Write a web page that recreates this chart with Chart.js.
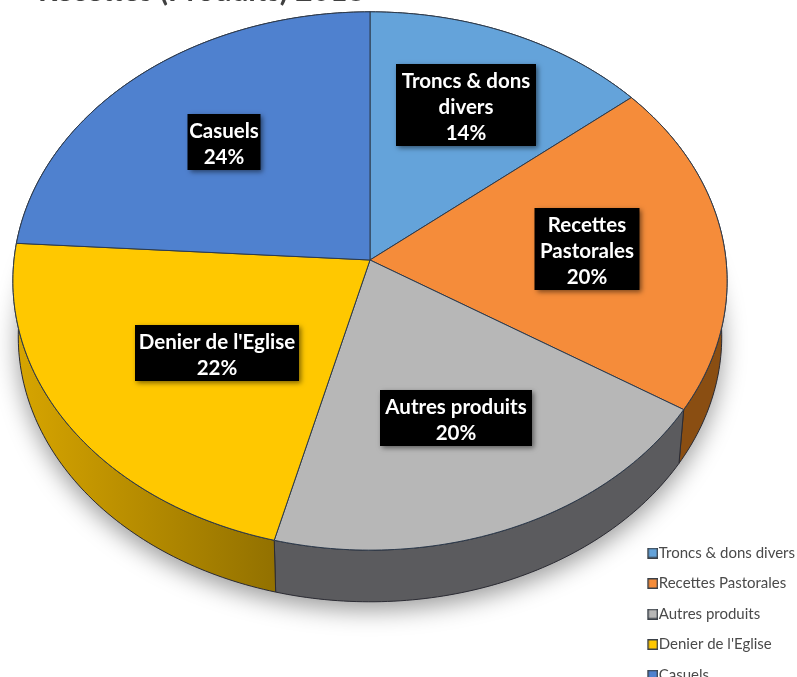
<!DOCTYPE html>
<html>
<head>
<meta charset="utf-8">
<title>Recettes (Produits) 2018</title>
<script src="https://cdn.jsdelivr.net/npm/chart.js@4"></script>
<style>
  html, body { margin: 0; padding: 0; background: #fff; overflow: hidden; }
  #wrap { position: relative; width: 797px; height: 677px; overflow: hidden; }
  #pie { position: absolute; left: 0; top: -30px; }
</style>
</head>
<body>
<div id="wrap"><canvas id="pie" width="805" height="728"></canvas></div>
<script>
const categories = ['Troncs & dons divers', 'Recettes Pastorales', 'Autres produits', "Denier de l'Eglise", 'Casuels'];
const values = [14, 20, 20, 22, 24];
const labelLines = [['Troncs & dons', 'divers'], ['Recettes', 'Pastorales'], ['Autres produits'], ["Denier de l'Eglise"], ['Casuels']];

const sliceColors = ['#64A3DA', '#F58C3A', '#B7B7B7', '#FFC800', '#4F81CF'];
const wallColors = ['#3F6E9B', '#8A4E12', '#5B5B5E', '#917000', '#30528C'];
const wallLight = ['#3F6E9B', '#8A4E12', '#5B5B5E', '#D6A400', '#30528C'];
// centre des boites noires (px dans le canvas)
const labelCenters = [[466, 135], [587, 279], [456, 448], [217, 383], [224, 172]];
const labelWidths = [140, 105, 152, 164, 73];

// projection en perspective du disque
const cx = 370, cy = 290, A = 356, B = 267.5, p = 0.078;

function project(angle, depth) {
  const u = Math.cos(angle), v = -Math.sin(angle);
  const w = 1 + p * v;
  const k = depth ? 0.985 : 1;
  return [cx + k * A * u / w, cy + (depth || 0) - k * B * v / w];
}

function tracePie(ctx, start, end, depth) {
  const steps = Math.ceil(Math.abs(end - start) * 60);
  for (let i = 0; i <= steps; i++) {
    const pt = project(start + (end - start) * i / steps, depth);
    ctx.lineTo(pt[0], pt[1]);
  }
}

const pie3d = {
  id: 'pie3d',
  beforeDatasetsDraw(chart) {
    const ctx = chart.ctx;
    const arcs = chart.getDatasetMeta(0).data;
    const depth = 56;

    // ombre sous le gateau
    ctx.save();
    ctx.shadowColor = 'rgba(0,0,0,0.4)';
    ctx.shadowBlur = 24;
    ctx.shadowOffsetY = 8;
    ctx.fillStyle = '#777';
    ctx.beginPath();
    tracePie(ctx, 0, Math.PI * 2, depth);
    ctx.closePath();
    ctx.fill();
    ctx.restore();

    // cotes
    arcs.forEach((arc, i) => {
      const grad = ctx.createLinearGradient(20, 0, 280, 0);
      grad.addColorStop(0, wallLight[i]);
      grad.addColorStop(1, wallColors[i]);
      ctx.beginPath();
      tracePie(ctx, arc.startAngle, arc.endAngle, 0);
      tracePie(ctx, arc.endAngle, arc.startAngle, depth);
      ctx.closePath();
      ctx.fillStyle = grad;
      ctx.fill();
      ctx.lineWidth = 1;
      ctx.strokeStyle = '#2b2b33';
      ctx.stroke();
    });

    // dessus
    arcs.forEach((arc, i) => {
      ctx.beginPath();
      ctx.moveTo(cx, cy);
      tracePie(ctx, arc.startAngle, arc.endAngle, 0);
      ctx.closePath();
      ctx.fillStyle = sliceColors[i];
      ctx.fill();
      ctx.lineWidth = 1;
      ctx.strokeStyle = '#2c3a4c';
      ctx.stroke();
    });

    // etiquettes
    ctx.textAlign = 'center';
    ctx.textBaseline = 'middle';
    ctx.font = 'bold 20.5px Lato';
    values.forEach((val, i) => {
      const lines = labelLines[i].concat(val + '%');
      const h = lines.length * 26 + 4;
      const x = labelCenters[i][0], y = labelCenters[i][1];
      ctx.save();
      ctx.shadowColor = 'rgba(0,0,0,0.5)';
      ctx.shadowBlur = 5;
      ctx.shadowOffsetX = 2;
      ctx.shadowOffsetY = 2;
      ctx.fillStyle = '#000';
      ctx.fillRect(x - labelWidths[i] / 2, y - h / 2, labelWidths[i], h);
      ctx.restore();
      ctx.fillStyle = '#fff';
      lines.forEach((line, j) => {
        ctx.fillText(line, x, y + 2 - (lines.length - 1) * 13 + j * 26);
      });
    });
    return false;
  }
};

// carre de legende, decale a droite pour coller au texte
function legendSwatch(color) {
  const c = document.createElement('canvas');
  c.width = 15;
  c.height = 11;
  const g = c.getContext('2d');
  g.fillStyle = '#3a4048';
  g.fillRect(4, 0, 11, 11);
  g.fillStyle = color;
  g.fillRect(5.5, 1.5, 8, 8);
  return c;
}

new Chart(document.getElementById('pie'), {
  type: 'pie',
  data: {
    labels: categories,
    datasets: [{
      data: values,
      backgroundColor: sliceColors
    }]
  },
  plugins: [pie3d],
  options: {
    responsive: false,
    animation: false,
    events: [],
    layout: { padding: { left: 38 } },
    plugins: {
      tooltip: { enabled: false },
      title: {
        display: true,
        text: 'Recettes (Produits) 2018',
        align: 'start',
        color: '#404040',
        font: { family: 'Lato', size: 30, weight: 'bold' },
        padding: { top: 3, bottom: 0 }
      },
      legend: {
        position: 'right',
        align: 'end',
        labels: {
          usePointStyle: true,
          boxWidth: 1,
          boxHeight: 10,
          padding: 15.5,
          color: '#4a4a4a',
          font: { family: 'Lato', size: 15 },
          generateLabels(chart) {
            const items = Chart.overrides.pie.plugins.legend.labels.generateLabels(chart);
            items.forEach((item, i) => { item.pointStyle = legendSwatch(sliceColors[i]); });
            return items;
          }
        }
      }
    }
  }
});
</script>
</body>
</html>
